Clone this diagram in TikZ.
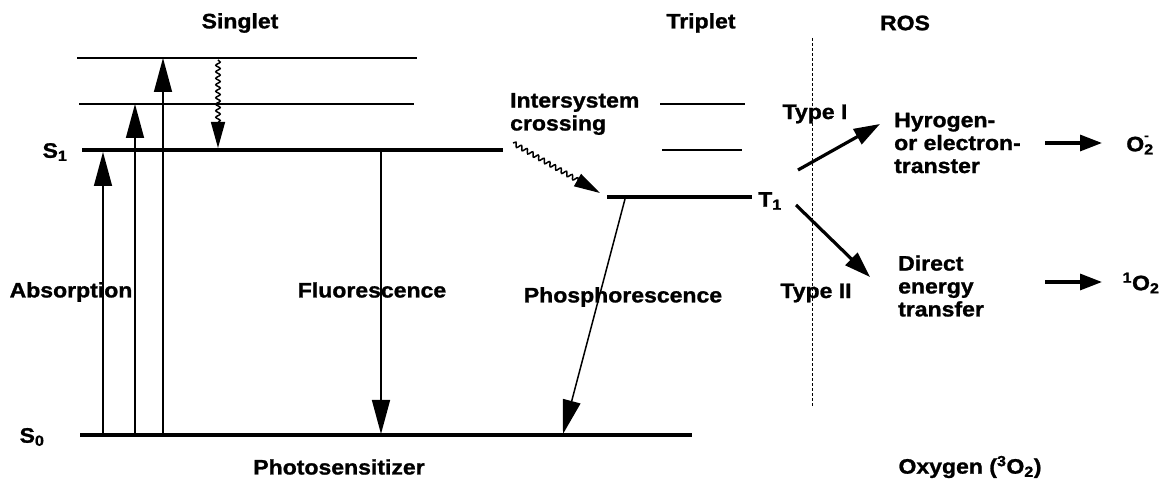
\documentclass[tikz,border=0pt]{standalone}
\usepackage{fontspec}
\setmainfont{Liberation Sans}[FakeStretch=1.1,BoldFeatures={FakeBold=1.2}]
\usetikzlibrary{arrows.meta,decorations.pathmorphing}

\begin{document}
\begin{tikzpicture}[x=1bp,y=-1bp,
	every node/.style={font=\bfseries\fontsize{21}{23}\selectfont,inner sep=0pt},
	level/.style={line width=1.5bp},
	mainlevel/.style={line width=4bp},
	trans/.style={line width=1.5bp,-{Triangle[length=34bp,width=18bp]}},
	wavy/.style={line width=1.5bp,-{Triangle[length=26bp,width=14bp]},decorate,
		decoration={snake,amplitude=2.2bp,segment length=6.5bp,post length=24bp}},
	ros/.style={line width=3.2bp,-{Triangle[length=26bp,width=17bp]}},
	prod/.style={line width=3.2bp,-{Triangle[length=22bp,width=16bp]}}]
	\useasboundingbox (0,0) rectangle (1167,482);

	% headings
	\node (singlet) at (240,23) {Singlet};
	\node (triplet) at (701,23) {Triplet};
	\node (rosh) at (905,23) {ROS};

	% singlet states
	\draw[level] (77,58) -- (417,58);
	\draw[level] (79,104) -- (414,104);
	\draw[mainlevel] (82,150) -- (503,150);
	\draw[mainlevel] (80,435) -- (692,435);
	\node (s1) at (55,152) {S\textsubscript{1}};
	\node (s0) at (32,437) {S\textsubscript{0}};

	\foreach \x/\y in {103/152,135/104,163/58}
		\draw[trans] (\x,435) -- (\x,\y);
	\draw[wavy] (218,60) -- (218,148);
	\draw[trans] (381,152) -- (381,434);

	% triplet states
	\draw[level] (660,104) -- (745,104);
	\draw[level] (662,150) -- (742,150);
	\draw[mainlevel] (607,197) -- (752,197);
	\node (t1) at (770,201) {T\textsubscript{1}};
	\draw[wavy] (513,143) -- (600,193);
	\draw[trans] (625,199) -- (563,434);

	\node[anchor=west,align=left] (isc) at (510,114) {Intersystem\\crossing};
	\node (absorb) at (71,292) {Absorption};
	\node (fluor) at (372,290) {Fluorescence};
	\node (phos) at (623,297) {Phosphorescence};
	\node (ps) at (339,467) {Photosensitizer};

	% ROS side
	\draw[line width=1bp,dash pattern=on 3bp off 2bp] (812,38) -- (812,408);
	\node (type1) at (815,114) {Type I};
	\node (type2) at (816,293) {Type II};
	\coordinate (t1up) at (798,170);
	\coordinate (t1dn) at (796,205);
	\node[anchor=west,align=left] (hyd) at (894,143) {Hyrogen-\\or electron-\\transter};
	\node[anchor=west,align=left] (direct) at (898,286) {Direct\\energy\\transfer};
	\draw[ros] (t1up) -- (880,124);
	\draw[ros] (t1dn) -- (870,277);

	\node (super) at (1140,145) {O\rlap{\raisebox{1.05ex}{\fontsize{13}{13}\selectfont -}}\textsubscript{2}};
	\node (singox) at (1141,283) {\textsuperscript{1}O\textsubscript{2}};
	\draw[prod] (1045,143) -- (1102,143);
	\draw[prod] (1045,282) -- (1102,282);
	\node (oxy) at (970,467) {Oxygen (\textsuperscript{3}O\textsubscript{2})};
\end{tikzpicture}
\end{document}
